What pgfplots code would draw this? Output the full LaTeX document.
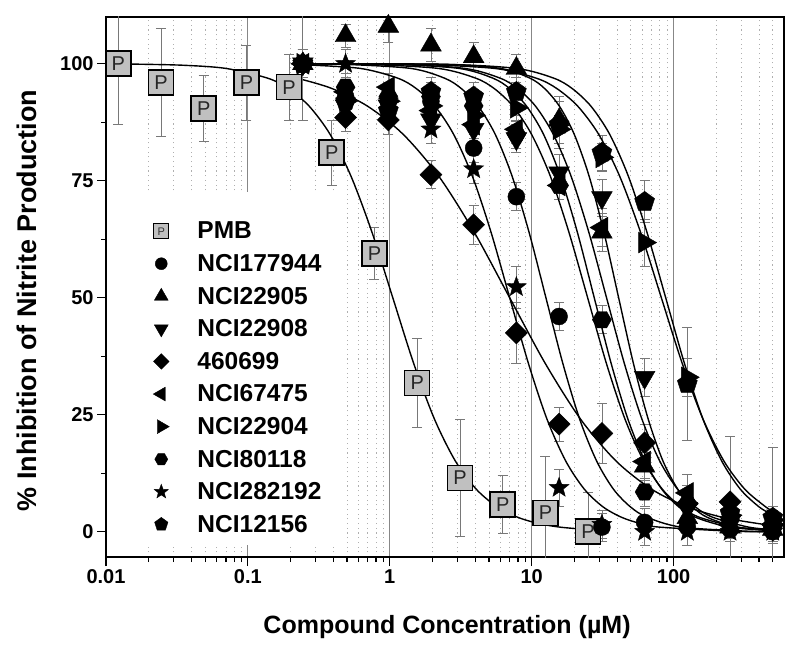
\documentclass[border=0pt]{standalone}
\usepackage{pgfplots}
\pgfplotsset{compat=1.18}
\usepackage{fontspec}
\setmainfont{Liberation Sans}
\usetikzlibrary{plotmarks}
\definecolor{pmbfill}{RGB}{192,192,192}
\definecolor{majgrid}{RGB}{135,135,135}
\definecolor{mingrid}{RGB}{175,175,175}
\definecolor{errgray}{RGB}{120,120,120}

\pgfdeclareplotmark{PboxL}{%
  \pgfpathrectangle{\pgfqpoint{-\pgfplotmarksize}{-\pgfplotmarksize}}{\pgfqpoint{2\pgfplotmarksize}{2\pgfplotmarksize}}%
  \pgfusepathqfillstroke
  \pgftext{\fontsize{20bp}{20bp}\selectfont\color{black!85}P}%
}
\pgfdeclareplotmark{PboxS}{%
  \pgfpathrectangle{\pgfqpoint{-\pgfplotmarksize}{-\pgfplotmarksize}}{\pgfqpoint{2\pgfplotmarksize}{2\pgfplotmarksize}}%
  \pgfusepathqfillstroke
  \pgftext{\fontsize{11bp}{11bp}\selectfont\color{black!80}P}%
}
\pgfdeclareplotmark{hexa}{%
  \pgfpathmoveto{\pgfpointpolar{0}{\pgfplotmarksize}}%
  \pgfpathlineto{\pgfpointpolar{60}{\pgfplotmarksize}}%
  \pgfpathlineto{\pgfpointpolar{120}{\pgfplotmarksize}}%
  \pgfpathlineto{\pgfpointpolar{180}{\pgfplotmarksize}}%
  \pgfpathlineto{\pgfpointpolar{240}{\pgfplotmarksize}}%
  \pgfpathlineto{\pgfpointpolar{300}{\pgfplotmarksize}}%
  \pgfpathclose
  \pgfusepathqfillstroke
}
\pgfdeclareplotmark{fstar}{%
  \pgfpathmoveto{\pgfpointpolar{90}{\pgfplotmarksize}}%
  \pgfpathlineto{\pgfpointpolar{126}{0.42\pgfplotmarksize}}%
  \pgfpathlineto{\pgfpointpolar{162}{\pgfplotmarksize}}%
  \pgfpathlineto{\pgfpointpolar{198}{0.42\pgfplotmarksize}}%
  \pgfpathlineto{\pgfpointpolar{234}{\pgfplotmarksize}}%
  \pgfpathlineto{\pgfpointpolar{270}{0.42\pgfplotmarksize}}%
  \pgfpathlineto{\pgfpointpolar{306}{\pgfplotmarksize}}%
  \pgfpathlineto{\pgfpointpolar{342}{0.42\pgfplotmarksize}}%
  \pgfpathlineto{\pgfpointpolar{18}{\pgfplotmarksize}}%
  \pgfpathlineto{\pgfpointpolar{54}{0.42\pgfplotmarksize}}%
  \pgfpathclose
  \pgfusepathqfillstroke
}

\pgfplotsset{
  dat/.style={only marks, forget plot,
    error bars/y dir=both, error bars/y explicit,
    error bars/error bar style={errgray, line width=0.8bp},
    error bars/error mark options={rotate=90, errgray, mark size=5bp, line width=0.8bp}},
  fit/.style={black, line width=1.4bp, smooth, no marks, forget plot},
}

\begin{document}
\begin{tikzpicture}
\useasboundingbox (-106bp,-98bp) rectangle (694bp,557bp);
\begin{axis}[
  at={(0,0)}, anchor=south west,
  scale only axis, width=678bp, height=540bp,
  xmode=log, xmin=0.01, xmax=600, ymin=-5.4, ymax=110,
  xtick={0.01,0.1,1,10,100}, xticklabels={0.01,0.1,1,10,100},
  minor xtick={0.02,0.03,0.04,0.05,0.06,0.07,0.08,0.09,0.2,0.3,0.4,0.5,0.6,0.7,0.8,0.9,2,3,4,5,6,7,8,9,20,30,40,50,60,70,80,90,200,300,400,500},
  ytick={0,25,50,75,100}, yticklabels={0,25,50,75,100},
  minor ytick={12.5,37.5,62.5,87.5},
  xtick pos=left, ytick pos=left,
  tick align=outside,
  major tick length=9bp, minor tick length=5bp,
  every tick/.style={black, line width=1.2bp},
  axis line style={line width=1.8bp},
  xmajorgrids, xminorgrids,
  major grid style={majgrid, line width=1.2bp},
  minor grid style={mingrid, line width=0.8bp, dash pattern=on 1.1bp off 3.6bp},
  ticklabel style={font=\fontsize{20bp}{20bp}\selectfont\bfseries},
  xlabel={Compound Concentration (µM)},
  ylabel={\% Inhibition of Nitrite Production},
  xlabel style={font=\fontsize{25bp}{25bp}\selectfont\bfseries, at={(axis description cs:0.503,-0.13)}, anchor=center},
  ylabel style={font=\fontsize{27bp}{27bp}\selectfont\bfseries, at={(axis description cs:-0.117,0.475)}, anchor=center},
  legend cell align=left,
  legend image code/.code={\draw[#1] plot coordinates {(0bp,0bp)}; \path (-18bp,-9bp) (18bp,9bp);},
  legend style={at={(0.050,0.628)}, anchor=north west, draw=none, fill=none,
    font=\fontsize{24.5bp}{24.5bp}\selectfont\bfseries, row sep=10bp, column sep=16bp},
]
\fill[white] (rel axis cs:0.021,0.022) rectangle (rel axis cs:0.345,0.676);

\addlegendimage{only marks, mark=PboxS, mark size=7.5bp, mark options={fill=pmbfill, draw=black, line width=1bp}}
\addlegendentry{PMB}
\addlegendimage{only marks, mark=*, mark size=6bp, black}
\addlegendentry{NCI177944}
\addlegendimage{only marks, mark=triangle*, mark size=8bp, black}
\addlegendentry{NCI22905}
\addlegendimage{only marks, mark=triangle*, mark size=8bp, black, mark options={rotate=180}}
\addlegendentry{NCI22908}
\addlegendimage{only marks, mark=square*, mark size=5.5bp, black, mark options={rotate=45}}
\addlegendentry{460699}
\addlegendimage{only marks, mark=triangle*, mark size=8bp, black, mark options={rotate=90}}
\addlegendentry{NCI67475}
\addlegendimage{only marks, mark=triangle*, mark size=8bp, black, mark options={rotate=-90}}
\addlegendentry{NCI22904}
\addlegendimage{only marks, mark=hexa, mark size=6.5bp, black}
\addlegendentry{NCI80118}
\addlegendimage{only marks, mark=fstar, mark size=7.5bp, black}
\addlegendentry{NCI282192}
\addlegendimage{only marks, mark=pentagon*, mark size=7bp, black}
\addlegendentry{NCI12156}

% ---- data points ----
% PMB
\addplot[dat, mark=PboxL, mark size=12.5bp, mark options={fill=pmbfill, draw=black, line width=1.6bp}] table[x=x,y=y,y error=e] {
x y e
0.0122 100 13
0.0244 96 11.5
0.0488 90.5 7
0.0977 96 8
0.195 95 7
0.39 81 7
0.78 59.5 5.5
1.56 31.8 9.5
3.125 11.5 12.5
6.25 5.8 6.2
12.5 4 12
25 0 8.5
};
% NCI177944 circle
\addplot[dat, mark=*, mark size=8.5bp, mark options={fill=black, draw=black}] table[x=x,y=y,y error=e] {
x y e
0.244 100 3
0.488 93 3
0.977 92 3
1.95 92 3
3.9 82 3
7.8 71.6 3
15.6 46 3
31.25 1 3
62.5 2 3
125 1 2
250 0.5 2
500 0 2
};
% NCI22905 up triangle
\addplot[dat, mark=triangle*, mark size=12bp, mark options={fill=black, draw=black}] table[x=x,y=y,y error=e] {
x y e
0.244 100 3
0.488 106 2.5
0.977 108 3.5
1.95 104 3.5
3.9 101.5 3
7.8 99 3
15.6 88 5
31.25 64 4
62.5 14 3
125 3 3
250 1 2
500 0.5 2
};
% NCI22908 down triangle
\addplot[dat, mark=triangle*, mark size=12bp, mark options={fill=black, draw=black, rotate=180}] table[x=x,y=y,y error=e] {
x y e
0.244 100 3
0.488 91 3
0.977 91 3
1.95 88 3
3.9 86 3
7.8 84 3
15.6 76.7 4
31.25 71.4 4
62.5 33 4
125 5 3
250 2 3
500 0.5 3
};
% 460699 diamond
\addplot[dat, mark=square*, mark size=7.8bp, mark options={fill=black, draw=black, rotate=45}] table[x=x,y=y,y error=e] {
x y e
0.244 100 3
0.488 88.5 3
0.977 88 3
1.95 76.3 3
3.9 65.6 4.2
7.8 42.5 6.5
15.6 23 3.6
31.25 21 6.5
62.5 19 4
125 6 4
250 6.4 14
500 1.5 3
};
% NCI67475 left triangle
\addplot[dat, mark=triangle*, mark size=12bp, mark options={fill=black, draw=black, rotate=90}] table[x=x,y=y,y error=e] {
x y e
0.244 100 3
0.488 94 3
0.977 95 3
1.95 90 3
3.9 87 3
7.8 86 3
15.6 74 3
31.25 65 4
62.5 15 4
125 8.3 4
250 1.5 2
500 0.5 2
};
% NCI22904 right triangle
\addplot[dat, mark=triangle*, mark size=12bp, mark options={fill=black, draw=black, rotate=-90}] table[x=x,y=y,y error=e] {
x y e
0.244 100 3
0.488 92 3
0.977 92 3
1.95 91 3
3.9 89 3
7.8 90.6 3
15.6 86 3
31.25 80 3
62.5 61.8 5
125 33 4
250 3.5 3
500 2.5 3
};
% NCI80118 hexagon
\addplot[dat, mark=hexa, mark size=9.5bp, mark options={fill=black, draw=black}] table[x=x,y=y,y error=e] {
x y e
0.244 100 12
0.488 95 3
0.977 93 3
1.95 93 3
3.9 91 3
7.8 85 3
15.6 74 3
31.25 45.3 3
62.5 8.5 3
125 6 3
250 2.5 3
500 1 3
};
% NCI282192 star
\addplot[dat, mark=fstar, mark size=10.5bp, mark options={fill=black, draw=black}] table[x=x,y=y,y error=e] {
x y e
0.244 100 3
0.488 100 3
0.977 92 3
1.95 86 3
3.9 77.5 3
7.8 52.3 4.5
15.6 9.4 4
31.25 1.5 3
62.5 0 3
125 0 3
250 0 2
500 0 2
};
% NCI12156 pentagon
\addplot[dat, mark=pentagon*, mark size=10.5bp, mark options={fill=black, draw=black}] table[x=x,y=y,y error=e] {
x y e
0.244 100 3
0.488 92 3
0.977 90 3
1.95 94 3
3.9 93 3
7.8 94 3
15.6 87 5
31.25 81 3.7
62.5 70.5 4.5
125 31.6 12
250 4 3
500 3 15
};

% ---- fitted curves ----
\addplot[fit] coordinates {(0.0122,99.95) (0.018,99.9) (0.0355,99.68) (0.070,99.01) (0.1378,96.93) (0.193,94.68) (0.271,90.91) (0.380,84.90) (0.533,75.97) (0.749,64.01) (1.05,50) (1.473,35.99) (2.067,24.03) (2.899,15.10) (4.067,9.09) (5.705,5.32) (8.00,3.07) (11.23,1.75) (15.75,0.99) (25,0.45)};
\addplot[fit] coordinates {(0.244,96.6) (0.394,94.68) (0.7,90.91) (1.245,84.9) (2.214,75.97) (3.936,64.01) (7,50) (12.45,35.99) (22.14,24.03) (39.36,15.1) (70,9.09) (124.5,5.32) (221.4,3.07) (393.6,1.75) (500,1.38)};
\addplot[fit] coordinates {(0.244,99.8) (0.62,99.01) (1.137,96.93) (1.54,94.68) (2.085,90.91) (2.82,84.9) (3.82,75.97) (5.17,64.01) (7,50) (9.48,35.99) (12.83,24.03) (17.38,15.1) (23.5,9.09) (31.8,5.32) (43.1,3.07) (58.4,1.75) (79.1,0.99) (265,0.1) (500,0.03)};
\addplot[fit] coordinates {(0.244,100) (0.47,99.9) (1.406,99.01) (2.43,96.93) (3.2,94.68) (4.21,90.91) (5.54,84.9) (7.28,75.97) (9.58,64.01) (12.6,50) (16.57,35.99) (21.8,24.03) (28.7,15.1) (37.7,9.09) (49.6,5.32) (65.3,3.07) (112.9,0.99) (338,0.1) (500,0.05)};
\addplot[fit] coordinates {(0.244,100) (0.654,99.9) (2.195,99.01) (4.03,96.93) (5.46,94.68) (7.39,90.91) (9.99,84.9) (13.54,75.97) (18.3,64.01) (24.8,50) (33.6,35.99) (45.5,24.03) (61.6,15.1) (83.3,9.09) (112.8,5.32) (152.6,3.07) (280,0.99) (500,0.33)};
\addplot[fit] coordinates {(0.244,100) (1.03,99.9) (3.08,99.01) (5.33,96.93) (7.01,94.68) (9.22,90.91) (12.13,84.9) (15.95,75.97) (20.98,64.01) (27.6,50) (36.3,35.99) (47.7,24.03) (62.8,15.1) (82.6,9.09) (108.7,5.32) (143,3.07) (247,0.99) (500,0.23)};
\addplot[fit] coordinates {(0.244,100) (1.066,99.9) (3.37,99.01) (5.99,96.93) (7.99,94.68) (10.66,90.91) (14.21,84.9) (18.95,75.97) (25.27,64.01) (33.7,50) (44.95,35.99) (59.9,24.03) (79.9,15.1) (106.6,9.09) (142.1,5.32) (189.5,3.07) (337,0.99) (500,0.45)};
\addplot[fit] coordinates {(0.244,100) (2.3,99.9) (6.02,99.01) (9.72,96.93) (12.36,94.68) (15.7,90.91) (19.97,84.9) (25.4,75.97) (32.3,64.01) (41,50) (52.1,35.99) (66.3,24.03) (84.2,15.1) (107,9.09) (136.1,5.32) (172.9,3.07) (279,0.99) (500,0.25)};
\addplot[fit] coordinates {(0.244,100) (2.32,99.9) (7.79,99.01) (14.3,96.93) (19.36,94.68) (26.2,90.91) (35.5,84.9) (48.0,75.97) (64.9,64.01) (88,50) (119.2,35.99) (161.3,24.03) (218.5,15.1) (295.4,9.09) (400,5.32) (500,3.55)};
\addplot[fit] coordinates {(0.244,100) (1.41,99.9) (5.47,99.01) (10.76,96.93) (15.09,94.68) (21.16,90.91) (29.7,84.9) (41.7,75.97) (58.5,64.01) (82,50) (115,35.99) (161.4,24.03) (226.4,15.1) (317.6,9.09) (445.5,5.32) (500,4.42)};
\end{axis}
\end{tikzpicture}
\end{document}
